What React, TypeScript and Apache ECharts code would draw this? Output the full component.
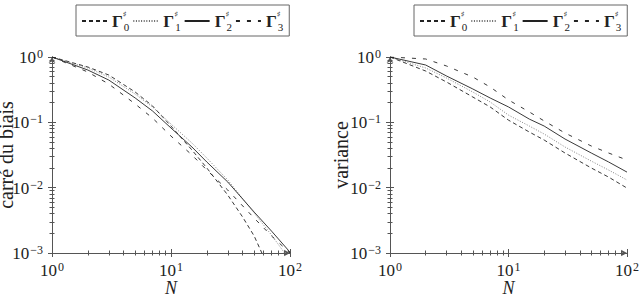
import React, { useEffect, useRef } from "react";
import * as echarts from "echarts";

// ---- data ----
const N = [1, 2, 3, 5, 7, 10, 15, 20, 30, 50, 70, 100];
const N_biasG0 = [1, 2, 3, 5, 7, 10, 15, 20, 30, 40, 50, 58];
const N_biasG1 = [1, 2, 3, 5, 7, 10, 15, 20, 30, 50, 70, 90];

const biasG0 = [1, 0.703, 0.53, 0.291, 0.178, 0.0877, 0.0377, 0.02, 0.0077, 0.00355, 0.00182, 0.001];
const biasG1 = [1, 0.679, 0.494, 0.271, 0.172, 0.0942, 0.0482, 0.0284, 0.0131, 0.00408, 0.00188, 0.001];
const biasG2 = [1, 0.632, 0.444, 0.236, 0.149, 0.0818, 0.0419, 0.0247, 0.0122, 0.00423, 0.00216, 0.00103];
const biasG3 = [1, 0.589, 0.386, 0.191, 0.116, 0.0616, 0.0316, 0.0186, 0.00919, 0.00342, 0.00182, 0.001];

const varG0 = [1, 0.61, 0.414, 0.244, 0.172, 0.108, 0.071, 0.0536, 0.0339, 0.02, 0.0145, 0.00986];
const varG1 = [1, 0.679, 0.477, 0.291, 0.205, 0.129, 0.0877, 0.0662, 0.0419, 0.0255, 0.0186, 0.0131];
const varG2 = [1, 0.754, 0.512, 0.324, 0.236, 0.172, 0.112, 0.0877, 0.0555, 0.0339, 0.0247, 0.0173];
const varG3 = [1, 0.932, 0.728, 0.494, 0.347, 0.22, 0.144, 0.105, 0.0686, 0.0434, 0.0339, 0.0265];

const seriesNames = ["Γ♯0", "Γ♯1", "Γ♯2", "Γ♯3"];
const xMajor = [1, 10, 100];
const xMinor = [2, 3, 4, 5, 6, 7, 8, 9, 20, 30, 40, 50, 60, 70, 80, 90];
const yMajor = [0.001, 0.01, 0.1, 1];
const yMinor = [
  0.002, 0.003, 0.004, 0.005, 0.006, 0.007, 0.008, 0.009,
  0.02, 0.03, 0.04, 0.05, 0.06, 0.07, 0.08, 0.09,
  0.2, 0.3, 0.4, 0.5, 0.6, 0.7, 0.8, 0.9,
];

const SERIF = "Liberation Serif";
const INK = "#222";
const AXIS = "#555";

const styles: any[] = [
  { type: [4, 3], width: 0.9, color: INK },
  { type: [1, 1.6], width: 0.8, color: "#666" },
  { type: "solid", width: 0.9, color: INK },
  { type: [4, 7], width: 0.9, color: INK },
];

function powLabel(v: number) {
  const e = Math.round(Math.log10(v));
  return `{b|10}{e|${e < 0 ? "\u2212" + -e : e}}`;
}

const labelRich = {
  b: { fontSize: 17, fontFamily: SERIF, color: INK, lineHeight: 18, verticalAlign: "bottom" },
  e: { fontSize: 12, fontFamily: SERIF, color: INK, lineHeight: 12, verticalAlign: "top", padding: [0, 0, 0, 1] },
};

function makeXAxes(grid: number, name: string) {
  const base = { type: "log", logBase: 10, min: 1, max: 100, gridIndex: grid, position: "bottom", splitLine: { show: false } };
  return [
    {
      ...base,
      name,
      nameLocation: "middle",
      nameGap: 26,
      nameMoveOverlap: false,
      nameTextStyle: { fontFamily: SERIF, fontStyle: "italic", fontSize: 18, color: INK },
      axisLine: { show: true, lineStyle: { color: AXIS, width: 1 }, symbol: ["none", "arrow"], symbolSize: [5, 6] },
      axisTick: { show: true, inside: true, length: 4, customValues: xMajor, lineStyle: { color: AXIS } },
      axisLabel: { show: true, customValues: xMajor, formatter: powLabel, rich: labelRich, margin: 8, fontFamily: SERIF },
    },
    { ...base, axisLine: { show: false }, axisLabel: { show: false }, axisTick: { show: true, inside: false, length: 4, customValues: xMajor, lineStyle: { color: AXIS } } },
    { ...base, axisLine: { show: false }, axisLabel: { show: false }, axisTick: { show: true, inside: true, length: 2.5, customValues: xMinor, lineStyle: { color: AXIS } } },
    { ...base, axisLine: { show: false }, axisLabel: { show: false }, axisTick: { show: true, inside: false, length: 2.5, customValues: xMinor, lineStyle: { color: AXIS } } },
  ];
}

function makeYAxes(grid: number, name: string, gap: number) {
  const base = { type: "log", logBase: 10, min: 0.001, max: 1, gridIndex: grid, position: "left", splitLine: { show: false } };
  return [
    {
      ...base,
      name,
      nameLocation: "middle",
      nameGap: gap,
      nameRotate: 90,
      nameMoveOverlap: false,
      nameTextStyle: { fontFamily: SERIF, fontSize: 20, color: INK },
      axisLine: { show: true, lineStyle: { color: AXIS, width: 1 }, symbol: ["none", "arrow"], symbolSize: [5, 6] },
      axisTick: { show: true, inside: true, length: 4, customValues: yMajor, lineStyle: { color: AXIS } },
      axisLabel: { show: true, customValues: yMajor, formatter: powLabel, rich: labelRich, margin: 9, fontFamily: SERIF },
    },
    { ...base, axisLine: { show: false }, axisLabel: { show: false }, axisTick: { show: true, inside: false, length: 4, customValues: yMajor, lineStyle: { color: AXIS } } },
    { ...base, axisLine: { show: false }, axisLabel: { show: false }, axisTick: { show: true, inside: true, length: 2.5, customValues: yMinor, lineStyle: { color: AXIS } } },
    { ...base, axisLine: { show: false }, axisLabel: { show: false }, axisTick: { show: true, inside: false, length: 2.5, customValues: yMinor, lineStyle: { color: AXIS } } },
  ];
}

function makeSeries(xs: number[][], ys: number[][], axisIdx: number) {
  return ys.map((vals, i) => ({
    type: "line",
    name: seriesNames[i],
    xAxisIndex: axisIdx,
    yAxisIndex: axisIdx,
    data: vals.map((v, j) => [xs[i][j], v]),
    symbol: "none",
    smooth: false,
    lineStyle: styles[i],
    itemStyle: { color: styles[i].color },
    z: 3,
  }));
}

function legendOf(left: number) {
  return {
    left,
    top: 5,
    orient: "horizontal",
    data: seriesNames,
    selectedMode: false,
    borderColor: "#666",
    borderWidth: 1,
    padding: [4, 6, 3, 5],
    itemGap: 3,
    itemWidth: 25,
    itemHeight: 10,
    itemStyle: { opacity: 0, borderWidth: 0 },
    formatter: (name: string) => `{g|Γ}{s|♯}{d|${name.slice(-1)}}`,
    textStyle: {
      fontFamily: SERIF,
      rich: {
        g: { fontFamily: SERIF, fontWeight: "bold", fontSize: 17, color: INK, lineHeight: 24, verticalAlign: "middle" },
        s: { fontFamily: "DejaVu Serif", fontSize: 8, color: INK, lineHeight: 24, verticalAlign: "top", width: 1, padding: [1, 0, 0, 0] },
        d: { fontFamily: SERIF, fontSize: 11, color: INK, lineHeight: 24, verticalAlign: "bottom", padding: [0, 0, 1, 0] },
      },
    },
  };
}

export default function App() {
  const ref = useRef<HTMLDivElement>(null);
  useEffect(() => {
    if (!ref.current) return;
    const chart = echarts.init(ref.current, undefined, { renderer: "svg" });
    chart.setOption({
      animation: false,
      backgroundColor: "#fff",
      textStyle: { fontFamily: SERIF },
      grid: [
        { left: 52, top: 57, width: 238, height: 196, outerBoundsMode: "none", containLabel: false },
        { left: 390, top: 57, width: 237, height: 196, outerBoundsMode: "none", containLabel: false },
      ],
      legend: [legendOf(76), legendOf(414)],
      xAxis: [...makeXAxes(0, "N"), ...makeXAxes(1, "N")],
      yAxis: [...makeYAxes(0, "carré du biais", 36), ...makeYAxes(1, "variance", 39)],
      series: [
        ...makeSeries([N_biasG0, N_biasG1, N, N], [biasG0, biasG1, biasG2, biasG3], 0),
        ...makeSeries([N, N, N, N], [varG0, varG1, varG2, varG3], 4),
      ],
    });
    return () => chart.dispose();
  }, []);
  return <div ref={ref} style={{ position: "absolute", left: 0, top: 0, width: 640, height: 299 }} />;
}
